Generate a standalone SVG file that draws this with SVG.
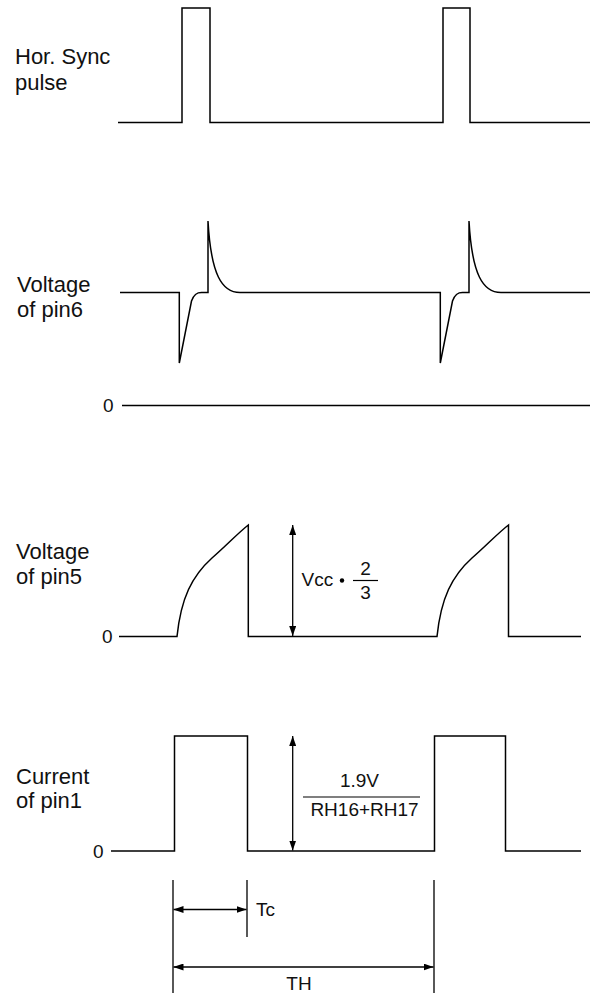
<svg xmlns="http://www.w3.org/2000/svg" width="592" height="993" viewBox="0 0 592 993">
<style>
.w{fill:none;stroke:#000;stroke-width:1.5;stroke-linejoin:miter}
.a{fill:none;stroke:#000;stroke-width:1.3}
.lbl{font-family:"Liberation Sans",Arial,sans-serif;font-size:22px;fill:#111}
.t{font-family:"Liberation Sans",Arial,sans-serif;font-size:19px;fill:#111}
</style>
<defs>
<marker id="ah" viewBox="0 0 10 7" refX="10" refY="3.5" markerWidth="10" markerHeight="7" markerUnits="userSpaceOnUse" orient="auto-start-reverse">
<path d="M0,0 L10,3.5 L0,7 z" fill="#000"/>
</marker>
</defs>
<rect width="592" height="993" fill="#fff"/>

<g id="sync">
<text class="lbl" x="15" y="64">Hor. Sync</text>
<text class="lbl" x="15" y="90">pulse</text>
<path class="w" d="M118,122.5 H182 V8 H210 V122.5 H443 V8 H470 V122.5 H590"/>
</g>

<g id="pin6">
<text class="lbl" x="17" y="292">Voltage</text>
<text class="lbl" x="17" y="317">of pin6</text>
<path class="w" d="M120,292.5 H179.3 V363 L191.5,301 C194,294 197,292.5 201.5,292.5 H208 V221 C211,275 222,292.5 240,292.5 H440.3 V363 L452.5,301 C455,294 458,292.5 462.5,292.5 H469 V221 C472,275 483,292.5 501,292.5 H590"/>
<text class="t" x="103" y="412">0</text>
<path class="w" d="M122,405.5 H590"/>
</g>

<g id="pin5">
<text class="lbl" x="16" y="559">Voltage</text>
<text class="lbl" x="16" y="584">of pin5</text>
<text class="t" x="102" y="643">0</text>
<path class="w" d="M119,636.5 H177 C181,598 192,576 212,558 C226,546 238,533 248.3,525 V636.5 H437 C441,598 452,576 472,558 C486,546 498,533 508.5,525 V636.5 H581"/>
<text class="t" x="301.5" y="586">Vcc</text>
<circle cx="342" cy="580.5" r="2.2" fill="#000"/>
<text class="t" x="365.5" y="575" text-anchor="middle">2</text>
<path d="M353,580.5 H378" stroke="#000" stroke-width="1.2"/>
<text class="t" x="365.5" y="599" text-anchor="middle">3</text>
</g>

<g id="pin1">
<text class="lbl" x="16" y="784">Current</text>
<text class="lbl" x="16" y="808">of pin1</text>
<text class="t" x="93" y="858">0</text>
<path class="w" d="M111,851 H174.5 V736 H247.5 V851 H434.5 V736 H505.5 V851 H581"/>
<text class="t" x="359.5" y="787" text-anchor="middle">1.9V</text>
<path d="M303,797 H420" stroke="#000" stroke-width="1.2"/>
<text class="t" x="364.5" y="816" text-anchor="middle">RH16+RH17</text>
</g>

<g id="timing">
<path class="a" d="M173,880 V993 M247,880 V937 M434,880 V993"/>
<text class="t" x="299" y="990" text-anchor="middle">TH</text>
<text class="t" x="256" y="916">Tc</text>
</g>

<g id="connectors">
<line class="a" x1="292.7" y1="525" x2="292.7" y2="636" marker-start="url(#ah)" marker-end="url(#ah)"/>
<line class="a" x1="292.7" y1="736" x2="292.7" y2="850.5" marker-start="url(#ah)" marker-end="url(#ah)"/>
<line class="a" x1="173.5" y1="909.5" x2="246.5" y2="909.5" marker-start="url(#ah)" marker-end="url(#ah)"/>
<line class="a" x1="173.5" y1="967" x2="433.5" y2="967" marker-start="url(#ah)" marker-end="url(#ah)"/>
</g>
</svg>
